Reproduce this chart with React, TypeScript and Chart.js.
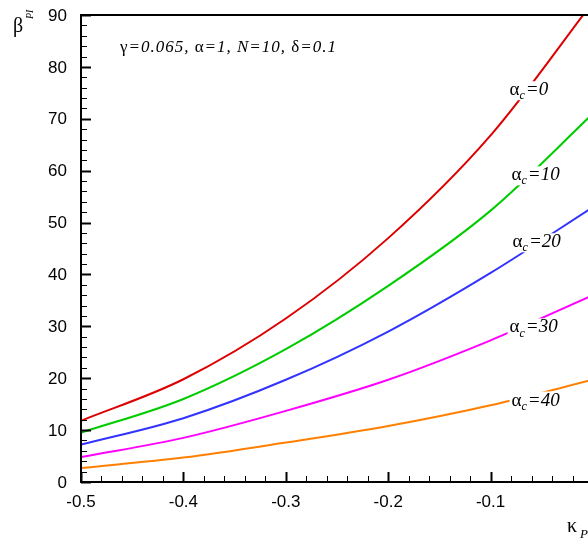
import React, { useEffect, useRef } from "react";
import { Chart, registerables } from "chart.js";

Chart.register(...registerables);

// Curvature parameter kappa_P and growth rate beta_PI for several alpha_c
const kappa = [-0.5, -0.4, -0.3, -0.2, -0.1, 0];
const betaAc0 = [11.8, 19.8, 31.5, 47.0, 66.8, 92.5];
const betaAc10 = [9.5, 16.0, 25.6, 37.8, 52.3, 71];
const betaAc20 = [7.2, 12.3, 19.7, 29.0, 40.3, 53];
const betaAc30 = [4.8, 8.5, 13.7, 19.7, 27.3, 36];
const betaAc40 = [2.7, 4.7, 7.6, 10.8, 14.8, 19.7];

const seriesValues = [betaAc0, betaAc10, betaAc20, betaAc30, betaAc40];
const seriesNames = ["0", "10", "20", "30", "40"];
const seriesColors = ["#dd0000", "#00cc00", "#3333ff", "#ff00ff", "#ff8000"];

// Axis tick labels
const xTickValues = [-0.5, -0.4, -0.3, -0.2, -0.1, 0];
const xTickLabels = ["-0.5", "-0.4", "-0.3", "-0.2", "-0.1", "0"];
const yTickValues = [0, 10, 20, 30, 40, 50, 60, 70, 80, 90];
const yTickLabels = ["0", "10", "20", "30", "40", "50", "60", "70", "80", "90"];

// In-plot curve labels, anchored in data coordinates (kappa, beta)
const curveLabelKappa = [-0.0815, -0.0795, -0.0785, -0.0815, -0.0795];
const curveLabelBeta = [75.5, 59.1, 46.2, 29.8, 15.7];

// Parameter note: [text, italic]
const paramParts: [string, boolean][] = [
  ["\u03b3", false],
  ["=0.065, ", true],
  ["\u03b1", false],
  ["=1, N=10, ", true],
  ["\u03b4", false],
  ["=0.1", true],
];

const SERIF = "'Liberation Serif', 'Times New Roman', serif";
const SANS = "'Liberation Sans', Arial, sans-serif";

const decorations = {
  id: "decorations",
  afterDraw(chart: any) {
    const { ctx, chartArea: a, scales } = chart;
    const xs = scales.x;
    const ys = scales.y;
    ctx.save();

    // inward ticks on the left axis
    ctx.strokeStyle = "#000";
    for (let v = 0; v <= 90; v += 2) {
      const major = v % 10 === 0;
      const y = Math.round(ys.getPixelForValue(v)) + 0.5;
      ctx.lineWidth = major ? 2 : 1;
      ctx.beginPath();
      ctx.moveTo(a.left, y);
      ctx.lineTo(a.left + (major ? 10 : 6), y);
      ctx.stroke();
    }
    // inward ticks on the bottom axis
    for (let i = 0; i <= 25; i++) {
      const k = -0.5 + i * 0.02;
      const major = i % 5 === 0;
      const x = Math.round(xs.getPixelForValue(k)) + 0.5;
      ctx.lineWidth = major ? 2 : 1;
      ctx.beginPath();
      ctx.moveTo(x, a.bottom);
      ctx.lineTo(x, a.bottom - (major ? 10 : 6));
      ctx.stroke();
    }

    // frame
    ctx.lineWidth = 2;
    ctx.strokeRect(a.left, a.top, a.right - a.left, a.bottom - a.top);

    // tick labels
    ctx.fillStyle = "#000";
    ctx.font = `17px ${SANS}`;
    ctx.textBaseline = "middle";
    ctx.textAlign = "right";
    yTickValues.forEach((v, i) => {
      ctx.fillText(yTickLabels[i], a.left - 14, ys.getPixelForValue(v) + 1);
    });
    ctx.textAlign = "center";
    xTickValues.forEach((v, i) => {
      ctx.fillText(xTickLabels[i], xs.getPixelForValue(v), a.bottom + 20);
    });

    // curve labels on a white box
    ctx.textAlign = "left";
    for (let i = 0; i < seriesNames.length; i++) {
      const x0 = xs.getPixelForValue(curveLabelKappa[i]);
      const y0 = ys.getPixelForValue(curveLabelBeta[i]);
      ctx.font = `19px ${SERIF}`;
      const wA = ctx.measureText("\u03b1").width;
      ctx.font = `italic 19px ${SERIF}`;
      const wEq = ctx.measureText("=" + seriesNames[i]).width;
      ctx.font = `italic 12px ${SERIF}`;
      const wC = ctx.measureText("c").width;
      const total = wA + wC + wEq + 1;
      ctx.fillStyle = "#fff";
      ctx.fillRect(x0 - 2, y0 - 9, total + 4, 19);
      ctx.fillStyle = "#000";
      ctx.font = `19px ${SERIF}`;
      ctx.fillText("\u03b1", x0, y0);
      ctx.font = `italic 12px ${SERIF}`;
      ctx.fillText("c", x0 + wA, y0 + 6);
      ctx.font = `italic 19px ${SERIF}`;
      ctx.fillText("=" + seriesNames[i], x0 + wA + wC + 1, y0);
    }

    // parameter note
    let px = xs.getPixelForValue(-0.462);
    const py = ys.getPixelForValue(83.8);
    (ctx as any).letterSpacing = "1px";
    for (const [t, it] of paramParts) {
      ctx.font = `${it ? "italic " : ""}17px ${SERIF}`;
      ctx.fillText(t, px, py);
      px += ctx.measureText(t).width;
    }
    (ctx as any).letterSpacing = "0px";

    // y-axis title
    ctx.textBaseline = "alphabetic";
    ctx.font = `20px ${SERIF}`;
    ctx.fillText("\u03b2", 13, 32);
    ctx.save();
    ctx.translate(33, 19);
    ctx.rotate(-Math.PI / 2);
    ctx.font = `italic 10px ${SERIF}`;
    ctx.fillText("PI", 0, 0);
    ctx.restore();

    // x-axis title
    ctx.font = `20px ${SERIF}`;
    ctx.fillText("\u03ba", 567, 532);
    ctx.font = `italic 13px ${SERIF}`;
    ctx.fillText("PI", 580, 538);

    ctx.restore();
  },
};

export default function App() {
  const canvasRef = useRef<HTMLCanvasElement | null>(null);

  useEffect(() => {
    const canvas = canvasRef.current;
    if (!canvas) return;
    const chart = new Chart(canvas, {
      type: "line",
      data: {
        datasets: seriesValues.map((vals, i) => ({
          label: "\u03b1c=" + seriesNames[i],
          data: kappa.map((k, j) => ({ x: k, y: vals[j] })),
          borderColor: seriesColors[i],
          borderWidth: 2,
          pointRadius: 0,
          fill: false,
          cubicInterpolationMode: "monotone" as const,
        })),
      },
      options: {
        animation: false,
        responsive: false,
        devicePixelRatio: 1,
        layout: { padding: { left: 0, top: 15, right: 7, bottom: 0 } },
        plugins: { legend: { display: false }, tooltip: { enabled: false } },
        scales: {
          x: {
            type: "linear",
            min: -0.5,
            max: 0,
            grid: { display: false, drawTicks: false },
            border: { display: false },
            ticks: { display: false, stepSize: 0.1 },
            afterFit: (s: any) => {
              s.height = 61;
            },
          },
          y: {
            type: "linear",
            min: 0,
            max: 90,
            grid: { display: false, drawTicks: false },
            border: { display: false },
            ticks: { display: false, stepSize: 10 },
            afterFit: (s: any) => {
              s.width = 81;
            },
          },
        },
      },
      plugins: [decorations],
    });
    return () => chart.destroy();
  }, []);

  return (
    <div
      style={{
        position: "absolute",
        left: 0,
        top: 0,
        width: 588,
        height: 543,
        overflow: "hidden",
        background: "#fff",
      }}
    >
      <canvas ref={canvasRef} width={600} height={543} style={{ width: 600, height: 543 }} />
    </div>
  );
}
